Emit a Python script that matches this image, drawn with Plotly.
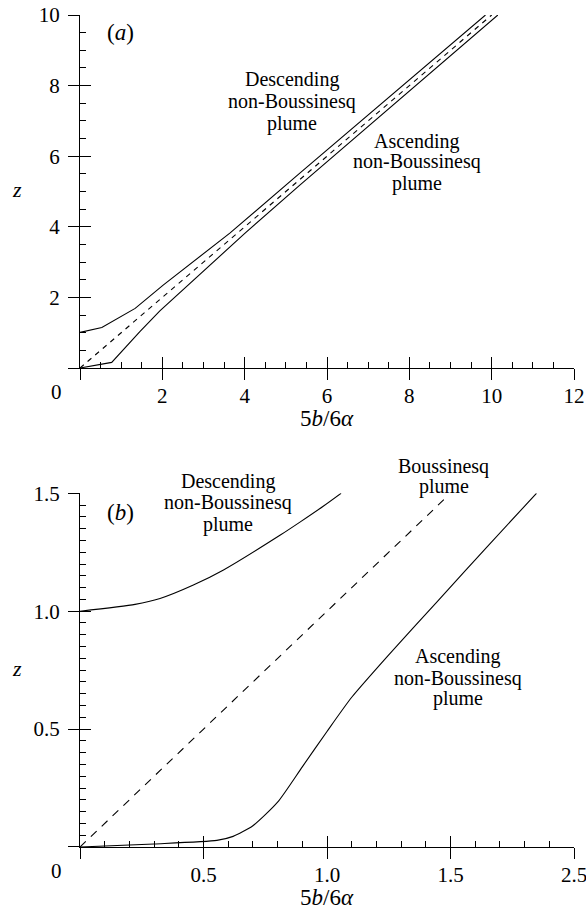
import plotly.graph_objects as go

# ---------------- data ----------------
# Panel (a)
desc_a_x = [0.0, 0.53, 1.34, 2.02, 3.64, 5.34, 9.85]
desc_a_z = [1.01, 1.15, 1.69, 2.35, 3.82, 5.52, 10.0]
asc_a_x = [0.0, 0.77, 1.46, 1.94, 4.01, 5.34, 10.15]
asc_a_z = [0.0, 0.16, 1.04, 1.62, 3.82, 5.18, 10.0]
bous_a_x = [0.0, 10.0]
bous_a_z = [0.0, 10.0]

# Panel (b)
desc_b_x = [0.0, 0.223, 0.324, 0.459, 0.581, 0.811, 0.892, 0.986, 1.057]
desc_b_z = [1.0, 1.029, 1.054, 1.111, 1.175, 1.323, 1.379, 1.446, 1.5]
asc_b_x = [0.0, 0.3, 0.554, 0.62, 0.70, 0.80, 0.90, 1.00, 1.10, 1.25, 1.45, 1.65, 1.848]
asc_b_z = [0.0, 0.013, 0.028, 0.045, 0.09, 0.19, 0.34, 0.49, 0.635, 0.815, 1.045, 1.275, 1.5]
bous_b_x = [0.0, 1.49]
bous_b_z = [0.0, 1.49]

# Tick labels
xa_tickvals = [0, 2, 4, 6, 8, 10, 12]
xa_ticktext = ["", "2", "4", "6", "8", "10", "12"]
ya_tickvals = [0, 2, 4, 6, 8, 10]
ya_ticktext = ["", "2", "4", "6", "8", "10"]
xb_tickvals = [0, 0.5, 1.0, 1.5, 2.0]
xb_ticktext = ["", "0.5", "1.0", "1.5", "2.5"]
yb_tickvals = [0, 0.5, 1.0, 1.5]
yb_ticktext = ["", "0.5", "1.0", "1.5"]

SERIF = "Liberation Serif, Times New Roman, Times, serif"
BLACK = "black"

RANGES = {"a": ([0, 12], [0, 10]), "b": ([0, 2], [0, 1.5])}

fig = go.Figure()

def line(x, y, xa, ya, dash="solid", shape="linear"):
    fig.add_trace(go.Scatter(x=x, y=y, mode="lines", xaxis=xa, yaxis=ya,
                             line=dict(color=BLACK, width=1.1, dash=dash, shape=shape,
                                       smoothing=0.6),
                             showlegend=False, hoverinfo="skip"))

line(desc_a_x, desc_a_z, "x", "y")
line(asc_a_x, asc_a_z, "x", "y")
line(bous_a_x, bous_a_z, "x", "y", dash="5px,5px")
line(desc_b_x, desc_b_z, "x2", "y2", shape="spline")
line(asc_b_x, asc_b_z, "x2", "y2", shape="spline")
line(bous_b_x, bous_b_z, "x2", "y2", dash="8px,7px")

# empty traces so the overlay (outside-tick) axes get drawn
for xa, ya in [("x3", "y"), ("x", "y3"), ("x4", "y2"), ("x2", "y4")]:
    fig.add_trace(go.Scatter(x=[], y=[], xaxis=xa, yaxis=ya, showlegend=False))

tickfont = dict(family=SERIF, size=21, color=BLACK)

def main_axis(rng, tv, tt, mdt, domain, anchor, standoff):
    return dict(range=rng, domain=domain, anchor=anchor, showline=True,
                linecolor=BLACK, linewidth=1, ticks="inside", ticklen=11,
                tickwidth=1, tickcolor=BLACK, tickmode="array", tickvals=tv,
                ticktext=tt, tickfont=tickfont, showgrid=False, zeroline=False,
                ticklabelstandoff=standoff, automargin=False,
                ticklabeloverflow="allow",
                minor=dict(ticks="inside", ticklen=6, tickwidth=1, tickcolor=BLACK,
                           tickmode="linear", tick0=0, dtick=mdt, showgrid=False))

def overlay_axis(rng, tv, over, anchor, side):
    return dict(range=rng, overlaying=over, anchor=anchor, side=side,
                ticks="outside", ticklen=11, tickwidth=1, tickcolor=BLACK,
                tickmode="array", tickvals=tv, showticklabels=False, automargin=False,
                showline=False, showgrid=False, zeroline=False)

top_dom = [0.5757, 1.0]
bot_dom = [0.0, 0.4251]

fig.update_layout(
    template="none",
    width=586, height=916,
    margin=dict(l=80, r=12, t=15, b=69, autoexpand=False),
    paper_bgcolor="white", plot_bgcolor="white",
    font=dict(family=SERIF, color=BLACK),
    xaxis=main_axis(RANGES["a"][0], xa_tickvals, xa_ticktext, 0.5, [0, 1], "y", 9),
    yaxis=main_axis(RANGES["a"][1], ya_tickvals, ya_ticktext, 0.5, top_dom, "x", 15),
    xaxis2=main_axis(RANGES["b"][0], xb_tickvals, xb_ticktext, 0.1, [0, 1], "y2", 9),
    yaxis2=main_axis(RANGES["b"][1], yb_tickvals, yb_ticktext, 0.05, bot_dom, "x2", 15),
    xaxis3=overlay_axis(RANGES["a"][0], xa_tickvals, "x", "y", "bottom"),
    yaxis3=overlay_axis(RANGES["a"][1], ya_tickvals, "y", "x", "left"),
    xaxis4=overlay_axis(RANGES["b"][0], xb_tickvals, "x2", "y2", "bottom"),
    yaxis4=overlay_axis(RANGES["b"][1], yb_tickvals, "y2", "x2", "left"),
)

ann = []
def txt(text, x, y, xref, yref, size=20, **kw):
    d = dict(text=text, x=x, y=y, xref=xref, yref=yref, showarrow=False,
             xanchor="center", yanchor="middle",
             font=dict(family=SERIF, size=size, color=BLACK))
    d.update(kw)
    ann.append(d)

# panel labels, corner zeros, axis titles
for xr, yr, lab in [("x", "y", "(<i>a</i>)"), ("x2", "y2", "(<i>b</i>)")]:
    txt(lab, 0.0825, 0.95 if xr == "x" else 0.945, xr + " domain", yr + " domain", size=23)
    txt("0", 0, 0, xr + " domain", yr + " domain", size=21, xshift=-24, yshift=-24)
    txt("5<i>b</i>/6<i>α</i>", 0.5, 0, xr + " domain", yr + " domain", size=23, yshift=-50)
    txt("<i>z</i>", -0.1275, 0.5, xr + " domain", yr + " domain", size=22, yshift=2)

# curve labels, one annotation per line (data positions -> domain fractions)
def block(lines, x, ys, panel, xr, yr):
    (x0, x1), (y0, y1) = RANGES[panel]
    for t, yy in zip(lines, ys):
        txt(t, (x - x0) / (x1 - x0), (yy - y0) / (y1 - y0), xr + " domain", yr + " domain")

block(["Descending", "non-Boussinesq", "plume"], 5.15, [8.16, 7.54, 6.94], "a", "x", "y")
block(["Ascending", "non-Boussinesq", "plume"], 8.19, [6.43, 5.84, 5.24], "a", "x", "y")
block(["Descending", "non-Boussinesq", "plume"], 0.60, [1.548, 1.459, 1.366], "b", "x2", "y2")
block(["Boussinesq", "plume"], 1.473, [1.613, 1.528], "b", "x2", "y2")
block(["Ascending", "non-Boussinesq", "plume"], 1.530, [0.806, 0.716, 0.631], "b", "x2", "y2")

fig.update_layout(annotations=ann)

fig.write_html("out.html")
